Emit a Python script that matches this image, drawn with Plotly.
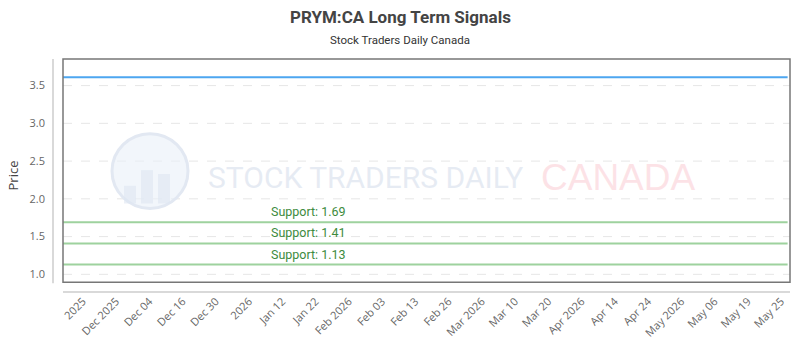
import plotly.graph_objects as go

# ---- data ----
tick_labels = ["2025", "Dec 2025", "Dec 04", "Dec 16", "Dec 30", "2026", "Jan 12", "Jan 22",
               "Feb 2026", "Feb 03", "Feb 13", "Feb 26", "Mar 2026", "Mar 10", "Mar 20",
               "Apr 2026", "Apr 14", "Apr 24", "May 2026", "May 06", "May 19", "May 25"]
tick_index = [3, 8, 13, 18, 23, 28, 33, 38, 43, 48, 53, 58, 63, 68, 73, 78, 83, 88, 93, 98, 103, 108]
price_x = [0, 109]
price_y = [3.61, 3.61]
support_levels = [1.69, 1.41, 1.13]
support_labels = ["Support: 1.69", "Support: 1.41", "Support: 1.13"]
y_ticks = [1.0, 1.5, 2.0, 2.5, 3.0, 3.5]
y_tick_labels = ["1.0", "1.5", "2.0", "2.5", "3.0", "3.5"]

fig = go.Figure()

fig.add_trace(go.Scatter(x=price_x, y=price_y, mode="lines",
                         line=dict(color="#4da6f0", width=2), hoverinfo="skip",
                         showlegend=False))

for lvl, lab in zip(support_levels, support_labels):
    fig.add_trace(go.Scatter(x=price_x, y=[lvl, lvl], mode="lines",
                             line=dict(color="#9ed29e", width=2), hoverinfo="skip",
                             showlegend=False))
    fig.add_annotation(x=37, y=lvl, text=lab, showarrow=False, xref="x", yref="y",
                       xanchor="center", yanchor="bottom", yshift=1,
                       font=dict(family="Roboto", size=12.5, color="#3d8b3d"))

# px helpers for paper coordinates: plot area x 53..790, y 59..296
def px(xp):
    return (xp - 53) / 737.0

def py(yp):
    return (296 - yp) / 237.0

shapes = []
# gridlines inside the frame only
for t in y_ticks:
    shapes.append(dict(type="line", xref="paper", yref="y", x0=px(63), x1=1, y0=t, y1=t,
                       line=dict(color="#e6e6e6", width=1, dash="dash"), layer="below"))
shapes += [
    # watermark logo circle
    dict(type="circle", xref="paper", yref="paper", x0=px(112), x1=px(188), y0=py(211), y1=py(135),
         line=dict(color="#e2e8f2", width=3), fillcolor="rgba(234,240,249,0.6)", layer="below"),
    # frame
    dict(type="rect", xref="paper", yref="paper", x0=px(63), x1=1, y0=py(286), y1=1,
         line=dict(color="#777777", width=1.5)),
    # offset y axis line
    dict(type="line", xref="paper", yref="paper", x0=0, x1=0, y0=py(287), y1=1,
         line=dict(color="#cccccc", width=1.5)),
    # offset x axis line
    dict(type="line", xref="paper", yref="paper", x0=px(63), x1=1, y0=0, y1=0,
         line=dict(color="#cccccc", width=1.5)),
]
# logo bars
for bx0, bx1, by0 in [(124, 136, 188), (141, 153, 172), (158, 170, 176)]:
    shapes.append(dict(type="rect", xref="paper", yref="paper", x0=px(bx0), x1=px(bx1),
                       y0=py(206), y1=py(by0), line=dict(width=0),
                       fillcolor="rgba(222,230,242,0.6)", layer="below"))

fig.update_layout(shapes=shapes)

fig.add_annotation(xref="paper", yref="paper", x=px(365), y=py(180), text="STOCK TRADERS DAILY",
                   showarrow=False, xanchor="center", yanchor="middle",
                   font=dict(family="Roboto", size=30, color="rgba(214,222,236,0.6)"))
fig.add_annotation(xref="paper", yref="paper", x=px(618), y=py(180), text="CANADA",
                   showarrow=False, xanchor="center", yanchor="middle",
                   font=dict(family="Liberation Sans, Arial", size=37, color="rgba(252,214,220,0.7)"))

# title and subtitle
fig.add_annotation(xref="paper", yref="paper", x=px(400), y=py(16), text="<b>PRYM:CA Long Term Signals</b>",
                   showarrow=False, xanchor="center", yanchor="middle",
                   font=dict(family="Roboto", size=17, color="#444444"))
fig.add_annotation(xref="paper", yref="paper", x=px(400), y=py(40), text="Stock Traders Daily Canada",
                   showarrow=False, xanchor="center", yanchor="middle",
                   font=dict(family="Roboto", size=11.5, color="#333333"))

fig.update_layout(
    width=800, height=350,
    margin=dict(l=53, r=10, t=59, b=54),
    paper_bgcolor="white", plot_bgcolor="white",
    xaxis=dict(range=[-1.5, 109.36], tickmode="array", tickvals=tick_index, ticktext=tick_labels,
               tickangle=-45, showgrid=False, zeroline=False, showline=False,
               tickfont=dict(family="Open Sans", size=11, color="#666666"), fixedrange=True),
    yaxis=dict(range=[0.766, 3.852], tickmode="array", tickvals=y_ticks,
               ticktext=y_tick_labels,
               showgrid=False, zeroline=False, showline=False, ticklabelstandoff=7,
               tickfont=dict(family="Open Sans", size=11, color="#666666"),
               title=dict(text="Price", font=dict(family="Open Sans", size=13, color="#444444"),
                          standoff=7), fixedrange=True),
    showlegend=False,
)

fig.write_html("out.html")
